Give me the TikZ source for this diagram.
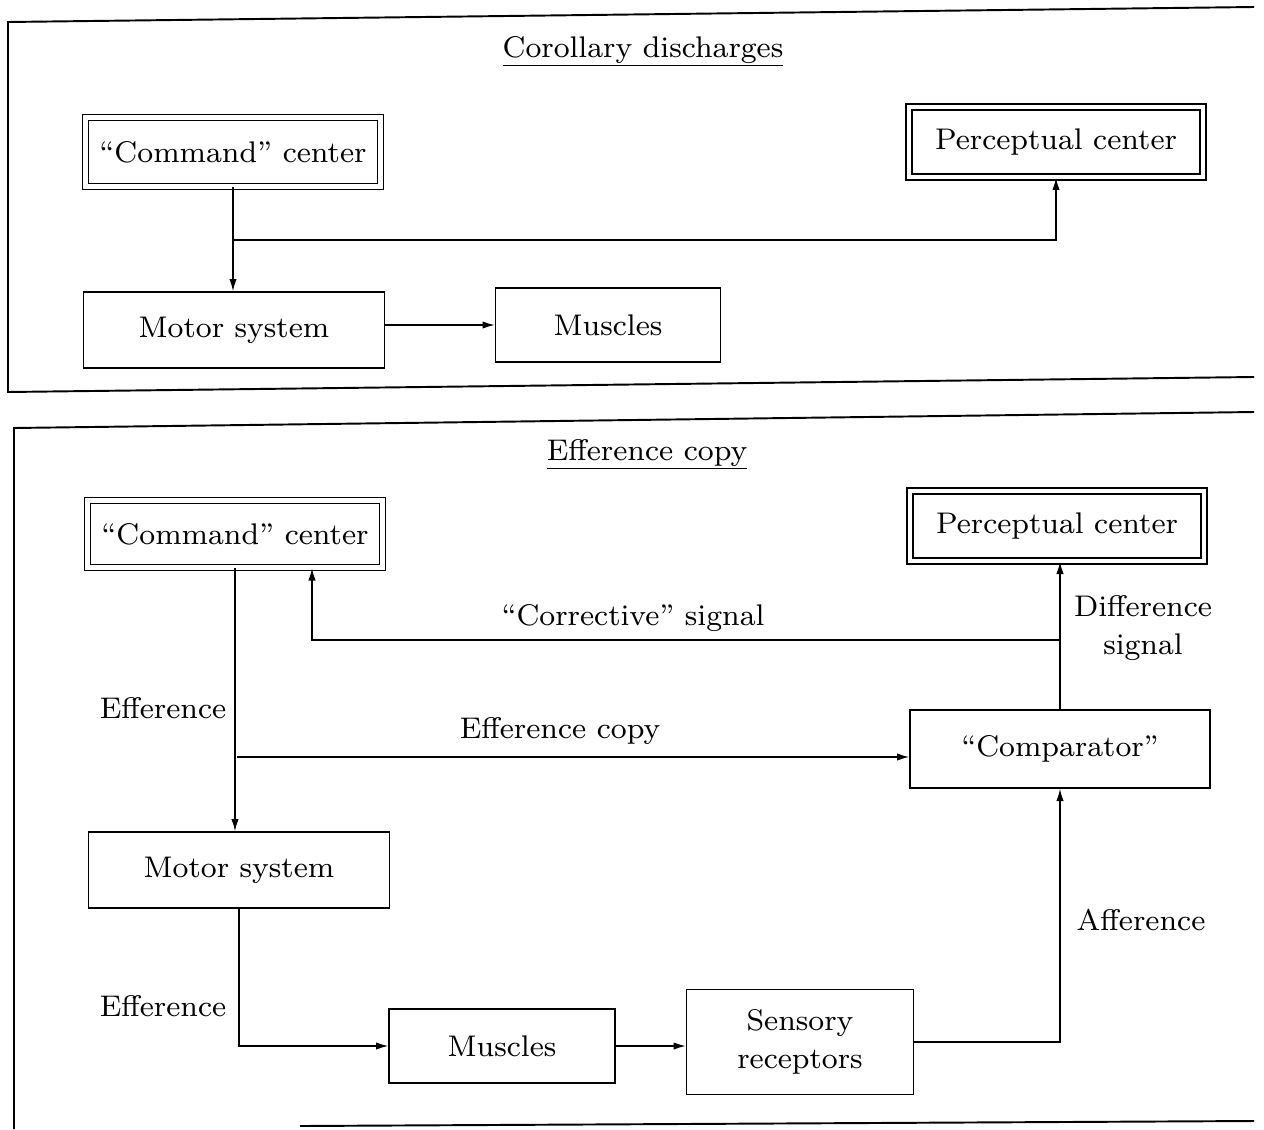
\documentclass[tikz,border=0pt]{standalone}
\usepackage{fontspec}
\setmainfont{lmroman8-regular.otf}
\usepackage{tikz}
\usetikzlibrary{arrows.meta, positioning, calc}

\begin{document}
\begin{tikzpicture}[x=0.02cm, y=-0.02cm, font=\fontsize{17}{22}\selectfont,
    box/.style={draw, line width=0.8pt, inner sep=0pt, align=center},
    dbox/.style={box, double, double distance=2.5pt},
    arr/.style={line width=0.8pt, -{Latex[length=7pt,width=4.2pt]}},
    frame/.style={line width=1.1pt}]
    \useasboundingbox (0,0) rectangle (1264,1129);

    % frames
    \draw[frame] (1254,7) -- (8,22) -- (8,392) -- (1254,377);
    \draw[frame] (1254,412) -- (14,428) -- (14,1129);
    \draw[frame] (300,1126) -- (1254,1121);

    % Corollary discharges
    \node[anchor=base] (titleA) at (643,57) {\underline{Corollary discharges}};
    \node[dbox, minimum width=5.9cm, minimum height=1.38cm] (cmdA) at (233,152) {``Command'' center};
    \node[dbox, minimum width=5.88cm, minimum height=1.4cm] (percA) at (1056,142) {Perceptual center};
    \node[box, minimum width=6.02cm, minimum height=1.52cm] (motorA) at (234,330) {Motor system};
    \node[box, minimum width=4.5cm, minimum height=1.48cm] (musclesA) at (608,325) {Muscles};
    \coordinate (brA) at (233,240);
    \draw[arr] (cmdA.south) -- (cmdA.south |- motorA.north);
    \draw[arr] (brA) -| (percA.south);
    \draw[arr] (motorA.east |- musclesA.west) -- (musclesA.west);

    % Efference copy
    \node[anchor=base] (titleB) at (647,460) {\underline{Efference copy}};
    \node[dbox, minimum width=5.9cm, minimum height=1.34cm] (cmdB) at (235,534) {``Command'' center};
    \node[dbox, minimum width=5.88cm, minimum height=1.4cm] (percB) at (1057,526) {Perceptual center};
    \node[box, minimum width=6.0cm, minimum height=1.56cm] (comp) at (1060,749) {``Comparator''};
    \node[box, minimum width=6.02cm, minimum height=1.52cm] (motorB) at (239,870) {Motor system};
    \node[box, minimum width=4.52cm, minimum height=1.48cm] (musclesB) at (502,1046) {Muscles};
    \node[box, minimum width=4.54cm, minimum height=2.1cm] (sensB) at (800,1042) {Sensory\\receptors};
    \coordinate (brB) at (237,757);
    \coordinate (cs) at (1060,640);
    \coordinate (csl) at (312,640);
    \draw[arr] (cmdB.south) -- (cmdB.south |- motorB.north);
    \draw[arr] (brB) -- (brB -| comp.west);
    \draw[arr] (comp.north) -- (comp.north |- percB.south);
    \draw[arr] (cs) -- (csl) -- (csl |- cmdB.south);
    \draw[arr] (motorB.south) |- (musclesB.west);
    \draw[arr] (musclesB.east) -- (musclesB.east -| sensB.west);
    \draw[arr] (sensB.east) -| (comp.south);

    \node (effA) at (163,708) {Efference};
    \node (effcopy) at (560,731) {Efference copy};
    \node (corr) at (633,618) {``Corrective'' signal};
    \node[align=center] (diff) at (1143,628) {Difference\\signal};
    \node (effB) at (163,1006) {Efference};
    \node (aff) at (1141,920) {Afference};
\end{tikzpicture}
\end{document}
